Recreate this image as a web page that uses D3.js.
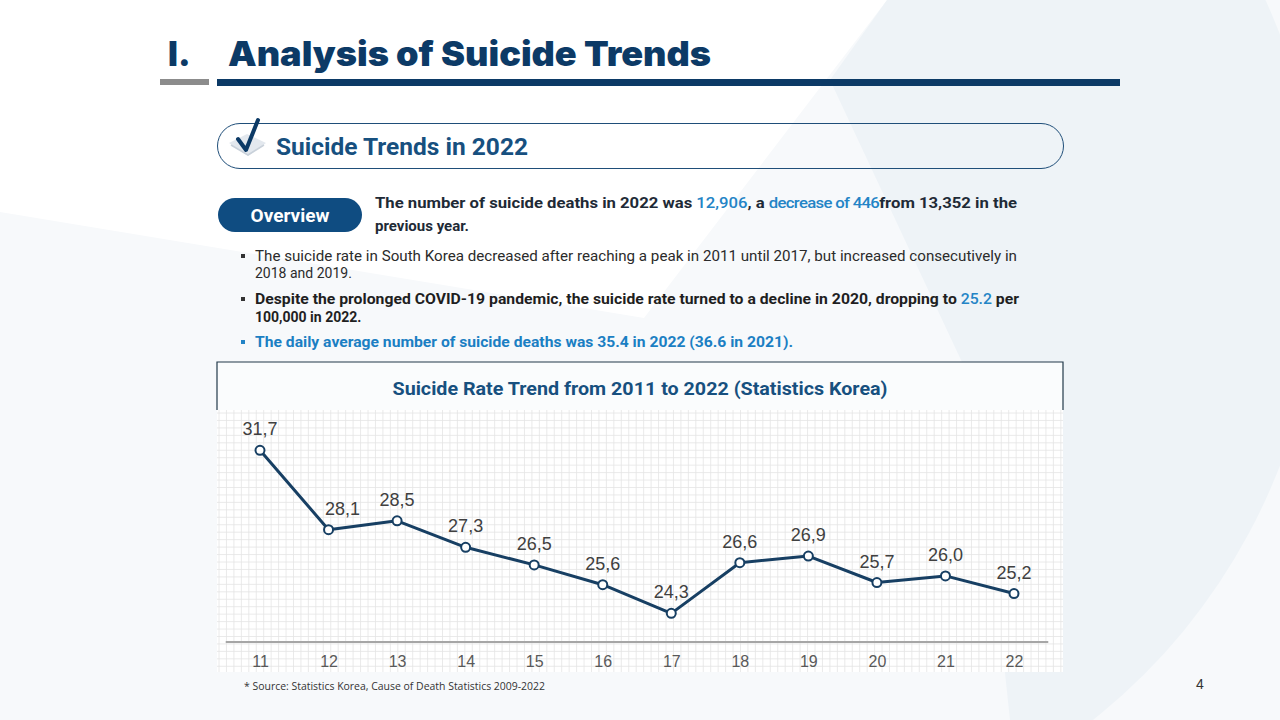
<!DOCTYPE html>
<html>
<head>
<meta charset="utf-8">
<script src="https://cdn.jsdelivr.net/npm/d3@7"></script>
<style>
  html, body { margin: 0; padding: 0; background: #fff; }
  svg { display: block; }
</style>
</head>
<body>
<svg id="chart"></svg>
<script>
// ── DATA ────────────────────────────────────────────────────────────────
const years = ["11", "12", "13", "14", "15", "16", "17", "18", "19", "20", "21", "22"];
const rates = [31.7, 28.1, 28.5, 27.3, 26.5, 25.6, 24.3, 26.6, 26.9, 25.7, 26.0, 25.2];
const yDomain = [23, 33.5];

const chartTitle = "Suicide Rate Trend from 2011 to 2022 (Statistics Korea)";
const sourceNote = "* Source: Statistics Korea, Cause of Death Statistics 2009-2022";

// ── COLOURS ─────────────────────────────────────────────────────────────
const NAVY = "#0c3a66";
const BLUE = "#2384c6";
const TEXT = "#1e2a36";
const LINE = "#173f63";

const W = 1280, H = 720;
const svg = d3.select("#chart").attr("width", W).attr("height", H);

// ── BACKGROUND SHAPES ───────────────────────────────────────────────────
svg.append("rect").attr("width", W).attr("height", H).attr("fill", "#f7f9fb");
svg.append("path")
  .attr("d", "M0,0 L887,0 L644,318 L0,212 Z")
  .attr("fill", "#ffffff");
const defs = svg.append("defs");
defs.append("clipPath").attr("id", "bgclip")
  .append("path").attr("d", "M887,0 L1280,0 L1280,720 L1010,720 L975,390 L830,80 Z");
svg.append("circle")
  .attr("cx", 720).attr("cy", 250).attr("r", 600)
  .attr("fill", "#eef3f7")
  .attr("clip-path", "url(#bgclip)");

// ── HEADER ──────────────────────────────────────────────────────────────
svg.append("text")
  .attr("x", 168).attr("y", 66)
  .style("font-family", "Inter").style("font-weight", 900).style("font-size", "34px")
  .attr("fill", NAVY).text("I.");
svg.append("text")
  .attr("x", 228).attr("y", 66)
  .attr("textLength", 483).attr("lengthAdjust", "spacingAndGlyphs")
  .style("font-family", "Inter").style("font-weight", 900).style("font-size", "34px")
  .attr("fill", NAVY).text("Analysis of Suicide Trends");
svg.append("rect").attr("x", 160).attr("y", 79).attr("width", 49).attr("height", 6).attr("fill", "#8c8c8c");
svg.append("rect").attr("x", 217).attr("y", 79).attr("width", 903).attr("height", 7).attr("fill", NAVY);

// ── SUB HEADER PILL ─────────────────────────────────────────────────────
svg.append("rect")
  .attr("x", 217.5).attr("y", 123.5).attr("width", 846).attr("height", 45).attr("rx", 22.5)
  .attr("fill", "none").attr("stroke", "#1f4e79").attr("stroke-width", 1);
// check icon
svg.append("path")
  .attr("d", "M229,143 L247,134 L266,143 L248,156 Z")
  .attr("fill", "#e3e8ee");
svg.append("path")
  .attr("d", "M231,145 L248,155 L264,145")
  .attr("fill", "none").attr("stroke", "#c9d1da").attr("stroke-width", 1.5);
svg.append("path")
  .attr("d", "M238,139 L246,150 L258,120")
  .attr("fill", "none").attr("stroke", NAVY).attr("stroke-width", 4)
  .attr("stroke-linecap", "round").attr("stroke-linejoin", "round");
svg.append("text")
  .attr("x", 276).attr("y", 155)
  .attr("textLength", 252).attr("lengthAdjust", "spacingAndGlyphs")
  .style("font-family", "Roboto").style("font-weight", 700).style("font-size", "23px")
  .attr("fill", "#17507f").text("Suicide Trends in 2022");

// ── OVERVIEW ────────────────────────────────────────────────────────────
svg.append("rect")
  .attr("x", 218).attr("y", 198).attr("width", 144).attr("height", 34).attr("rx", 17)
  .attr("fill", "#0f4c81");
svg.append("text")
  .attr("x", 290).attr("y", 222).attr("text-anchor", "middle")
  .style("font-family", "Roboto").style("font-weight", 700).style("font-size", "19px")
  .attr("fill", "#fff").text("Overview");

function richLine(x, y, width, parts, size, weight, color) {
  const t = svg.append("text")
    .attr("x", x).attr("y", y)
    .style("font-family", "Roboto").style("font-size", size + "px")
    .style("font-weight", weight).attr("fill", color);
  if (width) t.attr("textLength", width).attr("lengthAdjust", "spacingAndGlyphs");
  parts.forEach(p => {
    const s = t.append("tspan").text(p.t);
    if (p.c) s.attr("fill", p.c);
    if (p.w) s.style("font-weight", p.w);
    if (p.ls) s.style("letter-spacing", p.ls);
  });
  return t;
}

richLine(375, 208, 642, [
  { t: "The number of suicide deaths in 2022 was " },
  { t: "12,906", c: BLUE, w: 500 },
  { t: ", a " },
  { t: "decrease of 446", c: BLUE, w: 500, ls: "-0.6px" },
  { t: "from 13,352 in the" }
], 15, 700, TEXT);
richLine(375, 231, null, [{ t: "previous year." }], 15, 700, TEXT);

// bullets
[[256, "#333"], [299, "#333"], [342, BLUE]].forEach(([cy, c]) => {
  svg.append("rect").attr("x", 241).attr("y", cy - 2).attr("width", 4).attr("height", 4).attr("fill", c);
});
richLine(255, 261, 762, [
  { t: "The suicide rate in South Korea decreased after reaching a peak in 2011 until 2017, but increased consecutively in" }
], 14, 400, "#2b2b2b");
richLine(255, 278, null, [{ t: "2018 and 2019." }], 14, 400, "#2b2b2b");
richLine(255, 304, 764, [
  { t: "Despite the prolonged COVID-19 pandemic, the suicide rate turned to a decline in 2020, dropping to " },
  { t: "25.2", c: BLUE, w: 500 },
  { t: " per" }
], 14, 700, "#1f1f1f");
richLine(255, 322, null, [{ t: "100,000 in 2022." }], 14, 700, "#1f1f1f");
richLine(255, 347, 538, [
  { t: "The daily average number of suicide deaths was 35.4 in 2022 (36.6 in 2021)." }
], 14, 700, "#1b7fc3");

// ── CHART FRAME ─────────────────────────────────────────────────────────
const box = { x0: 217, x1: 1063, top: 362, head: 410, bottom: 672 };
svg.append("rect")
  .attr("x", box.x0).attr("y", box.top).attr("width", box.x1 - box.x0).attr("height", box.head - box.top)
  .attr("fill", "#fafcfd");
svg.append("path")
  .attr("d", `M${box.x0},${box.head} V${box.top} H${box.x1} V${box.head}`)
  .attr("fill", "none").attr("stroke", "#22394a").attr("stroke-width", 1.2);
svg.append("text")
  .attr("x", (box.x0 + box.x1) / 2).attr("y", 395).attr("text-anchor", "middle")
  .attr("textLength", 495).attr("lengthAdjust", "spacingAndGlyphs")
  .style("font-family", "Roboto").style("font-weight", 700).style("font-size", "19px")
  .attr("fill", "#17507f").text(chartTitle);

// plot background + fine grid
svg.append("rect")
  .attr("x", box.x0).attr("y", box.head).attr("width", box.x1 - box.x0).attr("height", box.bottom - box.head)
  .attr("fill", "#ffffff");
const grid = svg.append("g").attr("stroke", "#e4e4e4").attr("stroke-width", 0.8);
const cell = 7.45;
grid.selectAll("line.v").data(d3.range(box.x0 + 2, box.x1, cell)).join("line")
  .attr("class", "v").attr("x1", d => d).attr("x2", d => d)
  .attr("y1", box.head).attr("y2", box.bottom);
grid.selectAll("line.h").data(d3.range(box.head + 3, box.bottom, cell)).join("line")
  .attr("class", "h").attr("y1", d => d).attr("y2", d => d)
  .attr("x1", box.x0).attr("x2", box.x1);

// ── SCALES ──────────────────────────────────────────────────────────────
const x = d3.scalePoint().domain(years).range([260, 1014]);
const y = d3.scaleLinear().domain(yDomain).range([642, 410.7]);
const step = x.step();

const fmt = d3.formatLocale({ decimal: ",", thousands: ".", grouping: [3], currency: ["", ""] }).format(".1f");

// baseline
svg.append("line")
  .attr("x1", x(years[0]) - step / 2).attr("x2", x(years[years.length - 1]) + step / 2)
  .attr("y1", y(yDomain[0])).attr("y2", y(yDomain[0]))
  .attr("stroke", "#a6a6a6").attr("stroke-width", 2);

// x axis labels
svg.append("g")
  .attr("transform", `translate(0,${y(yDomain[0])})`)
  .call(d3.axisBottom(x).tickSize(0).tickPadding(14))
  .call(ax => ax.select(".domain").remove())
  .call(ax => ax.selectAll(".tick text")
    .style("font-family", "Liberation Sans, Arial, sans-serif")
    .style("font-size", "16px")
    .attr("fill", "#595959"));

// line
const pts = years.map((yr, i) => ({ yr, v: rates[i], prev: i > 0 ? rates[i - 1] : null }));
svg.append("path")
  .datum(pts)
  .attr("fill", "none").attr("stroke", LINE).attr("stroke-width", 3)
  .attr("stroke-linejoin", "round")
  .attr("d", d3.line().x(d => x(d.yr)).y(d => y(d.v)));

svg.selectAll(".pt").data(pts).join("circle")
  .attr("class", "pt")
  .attr("cx", d => x(d.yr)).attr("cy", d => y(d.v)).attr("r", 4.5)
  .attr("fill", "#fff").attr("stroke", LINE).attr("stroke-width", 2);

// value labels; nudge right when the incoming segment drops steeply
svg.selectAll(".val").data(pts).join("text")
  .attr("class", "val")
  .attr("x", d => x(d.yr) + (d.prev !== null && d.prev - d.v > 2 ? 14 : 0))
  .attr("y", d => y(d.v) - 15)
  .attr("text-anchor", "middle")
  .style("font-family", "Liberation Sans, Arial, sans-serif")
  .style("font-size", "18px")
  .attr("fill", "#404040")
  .text(d => fmt(d.v));

// ── FOOTER ──────────────────────────────────────────────────────────────
svg.append("text")
  .attr("x", 244).attr("y", 690)
  .attr("textLength", 301).attr("lengthAdjust", "spacingAndGlyphs")
  .style("font-family", "Open Sans").style("font-size", "10px")
  .attr("fill", "#333").text(sourceNote);
svg.append("text")
  .attr("x", 1200).attr("y", 689).attr("text-anchor", "middle")
  .style("font-family", "Liberation Sans, Arial, sans-serif").style("font-size", "14px")
  .attr("fill", "#333").text("4");
</script>
</body>
</html>
